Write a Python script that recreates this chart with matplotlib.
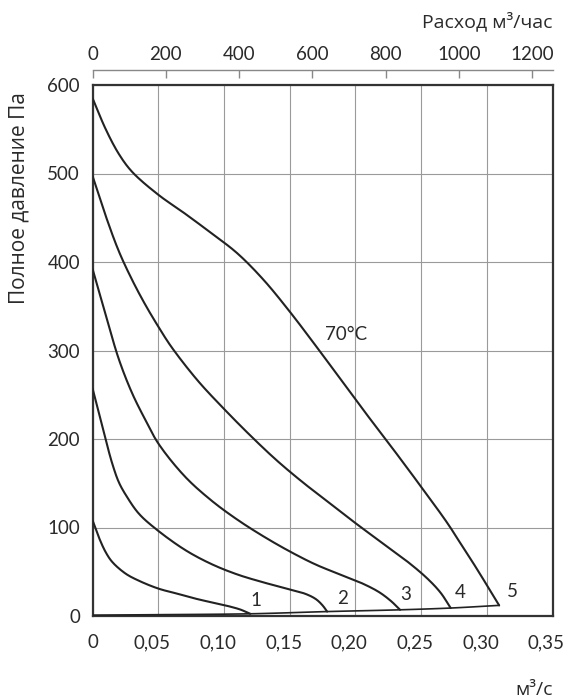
import matplotlib
matplotlib.use("Agg")
import matplotlib.pyplot as plt
import matplotlib.transforms as mtransforms
import numpy as np

plt.rcParams['font.family'] = ['Lato', 'Open Sans', 'DejaVu Sans']

# ---- data (flow m³/s, total pressure Pa) ----
c1_x = [0, 0.005, 0.010, 0.015, 0.025, 0.035, 0.050, 0.065, 0.080, 0.095, 0.105, 0.113, 0.1175, 0.120]
c1_y = [108, 88, 72, 61, 48, 40, 31, 25, 19, 14, 10.5, 7, 4, 2.5]

c2_x = [0, 0.005, 0.010, 0.015, 0.020, 0.026, 0.035, 0.0476, 0.070, 0.090, 0.110, 0.130, 0.150, 0.162, 0.170, 0.175, 0.1785]
c2_y = [257, 228, 199, 172, 151, 135, 116, 99, 75, 59, 47, 38, 30, 25, 19, 12, 5]

c3_x = [0, 0.010, 0.020, 0.030, 0.040, 0.050, 0.070, 0.090, 0.110, 0.130, 0.150, 0.170, 0.190, 0.205, 0.218, 0.227, 0.234]
c3_y = [392, 340, 290, 252, 222, 195, 158, 131, 109, 90, 73, 58, 46, 37, 27, 17, 7]

c4_x = [0, 0.010, 0.020, 0.030, 0.040, 0.050, 0.060, 0.080, 0.100, 0.120, 0.140, 0.160, 0.180, 0.200, 0.220, 0.240, 0.255, 0.265, 0.2725]
c4_y = [497, 452, 412, 380, 352, 327, 304, 266, 234, 204, 176, 151, 128, 105, 83, 61, 42, 26, 9]

c5_x = [0, 0.010, 0.020, 0.030, 0.050, 0.070, 0.090, 0.110, 0.130, 0.150, 0.170, 0.190, 0.210, 0.230, 0.250, 0.270, 0.280, 0.290, 0.300, 0.3094]
c5_y = [585, 550, 522, 502, 476, 455, 433, 410, 380, 344, 305, 265, 225, 186, 146, 105, 82, 59, 35, 12]

sys_x = [0, 0.05, 0.120, 0.1785, 0.234, 0.2725, 0.3094]
sys_y = [1, 1.5, 2.5, 5, 7, 9, 12]

curves = [(c1_x, c1_y), (c2_x, c2_y), (c3_x, c3_y), (c4_x, c4_y), (c5_x, c5_y)]
curve_labels = ['1', '2', '3', '4', '5']
label_pos = [(0.124, 18), (0.190, 20), (0.238, 24), (0.280, 26), (0.3196, 28)]

x_ticks = [0, 0.05, 0.10, 0.15, 0.20, 0.25, 0.30, 0.35]
x_ticklabels = ['0', '0,05', '0,10', '0,15', '0,20', '0,25', '0,30', '0,35']
y_ticks = [0, 100, 200, 300, 400, 500, 600]
top_ticks = [0, 200, 400, 600, 800, 1000, 1200]

TXT = '#2a2a2a'
FS = 13.5
CYR = ['Open Sans', 'DejaVu Sans']


def smooth_path(xs, ys, n=16):
    """Centripetal Catmull-Rom rendering of a polyline (display only)."""
    P = np.column_stack([np.asarray(xs, float) / 0.35, np.asarray(ys, float) / 600.0])
    P = np.vstack([2 * P[0] - P[1], P, 2 * P[-1] - P[-2]])
    out = []
    for i in range(1, len(P) - 2):
        p0, p1, p2, p3 = P[i - 1], P[i], P[i + 1], P[i + 2]
        t0 = 0.0
        t1 = t0 + np.linalg.norm(p1 - p0) ** 0.5 + 1e-9
        t2 = t1 + np.linalg.norm(p2 - p1) ** 0.5 + 1e-9
        t3 = t2 + np.linalg.norm(p3 - p2) ** 0.5 + 1e-9
        t = np.linspace(t1, t2, n)[:, None]
        A1 = (t1 - t) / (t1 - t0) * p0 + (t - t0) / (t1 - t0) * p1
        A2 = (t2 - t) / (t2 - t1) * p1 + (t - t1) / (t2 - t1) * p2
        A3 = (t3 - t) / (t3 - t2) * p2 + (t - t2) / (t3 - t2) * p3
        B1 = (t2 - t) / (t2 - t0) * A1 + (t - t0) / (t2 - t0) * A2
        B2 = (t3 - t) / (t3 - t1) * A2 + (t - t1) / (t3 - t1) * A3
        C = (t2 - t) / (t2 - t1) * B1 + (t - t1) / (t2 - t1) * B2
        out.append(C if i == 1 else C[1:])
    C = np.vstack(out)
    return C[:, 0] * 0.35, C[:, 1] * 600.0


fig = plt.figure(figsize=(5.68, 7.00), dpi=100)
ax = fig.add_axes([92.6 / 568, 84 / 700, (552.5 - 92.6) / 568, (616 - 85) / 700])

for (xs, ys) in curves:
    sx, sy = smooth_path(xs, ys)
    ax.plot(sx, sy, color='#222222', lw=1.5, solid_capstyle='round', solid_joinstyle='round', zorder=3)
sx, sy = smooth_path(sys_x, sys_y)
ax.plot(sx, sy, color='#222222', lw=1.2, zorder=3)

for lab, (lx, ly) in zip(curve_labels, label_pos):
    ax.text(lx, ly, lab, fontsize=FS, color=TXT, ha='center', va='center')
ax.text(0.193, 318, '70°C', fontsize=FS, color=TXT, ha='center', va='center')

ax.set_xlim(0, 0.35)
ax.set_ylim(0, 600)
ax.set_xticks(x_ticks)
ax.set_xticklabels(x_ticklabels)
ax.set_yticks(y_ticks)
ax.tick_params(axis='both', length=0, labelsize=FS, colors=TXT)
ax.tick_params(axis='x', pad=13)
ax.tick_params(axis='y', pad=9)
ax.grid(True, color='#9a9a9a', lw=0.8)
ax.set_axisbelow(True)
for s in ax.spines.values():
    s.set_linewidth(1.6)
    s.set_color('#333333')

# shift non-zero bottom labels slightly left, as in the reference
shift = mtransforms.ScaledTranslation(-6 / 100, 0, fig.dpi_scale_trans)
for i, lbl in enumerate(ax.get_xticklabels()):
    if i > 0:
        lbl.set_transform(lbl.get_transform() + shift)

ax2 = ax.twiny()
ax2.set_xlim(0, 1255)
ax2.set_xticks(top_ticks)
for name in ['left', 'right', 'bottom']:
    ax2.spines[name].set_visible(False)
ax2.spines['top'].set_position(('outward', 11))
ax2.spines['top'].set_color('#888888')
ax2.spines['top'].set_linewidth(1.0)
ax2.tick_params(axis='x', direction='in', length=6, width=1.0, color='#888888',
                labelsize=FS, labelcolor=TXT, pad=5)

fig.text(553 / 568, 1 - 21 / 700, 'Расход м³/час', fontsize=14, color=TXT,
         ha='right', va='center', family=CYR)
fig.text(553 / 568, 1 - 690 / 700, 'м³/с', fontsize=14, color=TXT,
         ha='right', va='center', family=CYR)
fig.text(19 / 568, 1 - 198 / 700, 'Полное давление Па', fontsize=15, color=TXT,
         ha='center', va='center', rotation=90, family=CYR)

fig.savefig('out.png', dpi=100)
